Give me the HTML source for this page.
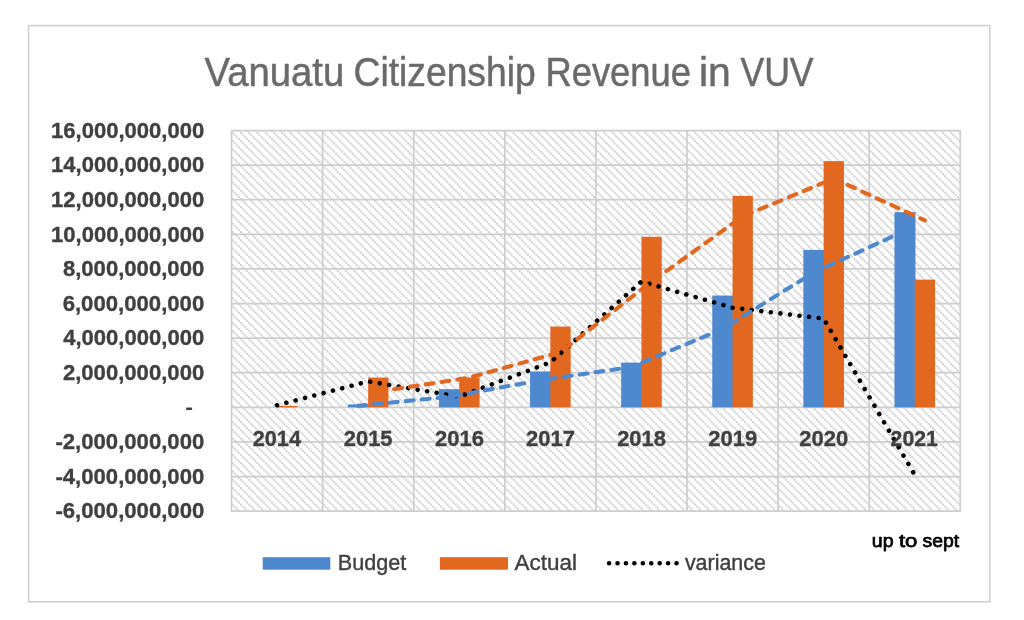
<!DOCTYPE html>
<html lang="en"><head><meta charset="utf-8"><title>Vanuatu Citizenship Revenue in VUV</title>
<style>html,body{margin:0;padding:0;background:#fff;}body{width:1024px;height:620px;overflow:hidden;}svg{display:block;}text{font-family:"Liberation Sans", Arial, Helvetica, sans-serif;}</style>
</head><body>
<svg width="1024" height="620" viewBox="0 0 1024 620">
<defs><pattern id="h" x="231.70" y="131.90" width="8.260" height="8.260" patternUnits="userSpaceOnUse">
<path d="M0.000 0.000L8.260 8.260" stroke="#cbcbcb" stroke-width="1.0" stroke-opacity="0.3" stroke-linecap="square"/>
<rect x="0.107" y="0.107" width="1.85" height="1.85" fill="#cbcbcb"/>
<rect x="2.172" y="2.172" width="1.85" height="1.85" fill="#cbcbcb"/>
<rect x="4.237" y="4.237" width="1.85" height="1.85" fill="#cbcbcb"/>
<rect x="6.303" y="6.303" width="1.85" height="1.85" fill="#cbcbcb"/>
</pattern></defs>
<rect x="0" y="0" width="1024" height="620" fill="#fff"/>
<rect x="28.6" y="25.6" width="961.2" height="576.2" fill="#fff" stroke="#d0d0d0" stroke-width="1.6"/>
<rect x="231.5" y="130.5" width="728.8" height="380.6" fill="url(#h)"/>
<path d="M231.5 165.10H960.3M231.5 199.71H960.3M231.5 234.31H960.3M231.5 268.92H960.3M231.5 303.52H960.3M231.5 338.13H960.3M231.5 372.73H960.3M231.5 407.34H960.3M231.5 441.94H960.3M231.5 476.55H960.3M322.60 130.5V511.1M413.70 130.5V511.1M504.80 130.5V511.1M595.90 130.5V511.1M687.00 130.5V511.1M778.10 130.5V511.1M869.20 130.5V511.1" fill="none" stroke="#cecece" stroke-width="1.75"/>
<rect x="231.5" y="130.5" width="728.8" height="380.65" fill="none" stroke="#cecece" stroke-width="1.75" stroke-linejoin="round"/>
<rect x="277.05" y="405.95" width="20.30" height="1.38" fill="#e2671f"/>
<rect x="347.85" y="404.39" width="21.00" height="2.94" fill="#4e89cf"/>
<rect x="368.15" y="377.58" width="20.30" height="29.76" fill="#e2671f"/>
<rect x="438.95" y="389.17" width="21.00" height="18.17" fill="#4e89cf"/>
<rect x="459.25" y="377.58" width="20.30" height="29.76" fill="#e2671f"/>
<rect x="530.05" y="371.52" width="21.00" height="35.82" fill="#4e89cf"/>
<rect x="550.35" y="326.53" width="20.30" height="80.80" fill="#e2671f"/>
<rect x="621.15" y="362.61" width="21.00" height="44.73" fill="#4e89cf"/>
<rect x="641.45" y="236.82" width="20.30" height="170.51" fill="#e2671f"/>
<rect x="712.25" y="295.56" width="21.00" height="111.77" fill="#4e89cf"/>
<rect x="732.55" y="195.90" width="20.30" height="211.43" fill="#e2671f"/>
<rect x="803.35" y="249.89" width="21.00" height="157.45" fill="#4e89cf"/>
<rect x="823.65" y="161.13" width="20.30" height="246.21" fill="#e2671f"/>
<rect x="894.45" y="212.17" width="21.00" height="195.17" fill="#4e89cf"/>
<rect x="914.75" y="279.65" width="20.30" height="127.69" fill="#e2671f"/>
<polyline points="277.05,405.26 368.15,381.38 459.25,396.61 550.35,362.35 641.45,281.55 732.55,307.68 823.65,318.58 914.75,474.82" fill="none" stroke="#000" stroke-width="4.6" stroke-dasharray="0.01 9.615" stroke-linecap="round" stroke-linejoin="round"/>
<polyline points="358.00,405.87 449.10,396.78 540.20,380.34 631.30,367.07 722.40,329.09 813.50,272.72 904.60,231.03" fill="none" stroke="#4e89cf" stroke-width="4.1" stroke-dasharray="7.9 8.1" stroke-linecap="round" stroke-linejoin="round"/>
<polyline points="378.30,391.76 469.40,377.58 560.50,352.06 651.60,281.68 742.70,216.36 833.80,178.51 924.90,220.39" fill="none" stroke="#e2671f" stroke-width="4.1" stroke-dasharray="7.9 8.1" stroke-linecap="round" stroke-linejoin="round"/>
<rect x="262.7" y="557.2" width="67.6" height="12.5" fill="#4e89cf"/>
<rect x="439.9" y="557.2" width="68.1" height="12.5" fill="#e2671f"/>
<path d="M609.1 563.2H680" fill="none" stroke="#000" stroke-width="4.6" stroke-dasharray="0.01 8.42" stroke-linecap="round"/>
<text y="85.90" font-size="40.3" fill="#6a6a6a" stroke="#6a6a6a" stroke-width="0.5" stroke-linejoin="round"><tspan x="204.60" textLength="139.68" lengthAdjust="spacingAndGlyphs">Vanuatu</tspan> <tspan x="353.62" textLength="182.05" lengthAdjust="spacingAndGlyphs">Citizenship</tspan> <tspan x="545.38" textLength="145.62" lengthAdjust="spacingAndGlyphs">Revenue</tspan> <tspan x="698.90" textLength="31.86" lengthAdjust="spacingAndGlyphs">in</tspan> <tspan x="740.40" textLength="73.20" lengthAdjust="spacingAndGlyphs">VUV</tspan></text>
<text x="51.03" y="137.70" font-size="22.5" font-weight="bold" fill="#404040" stroke="#404040" stroke-width="0.35" stroke-linejoin="round" textLength="153.23" lengthAdjust="spacingAndGlyphs">16,000,000,000</text>
<text x="51.03" y="172.30" font-size="22.5" font-weight="bold" fill="#404040" stroke="#404040" stroke-width="0.35" stroke-linejoin="round" textLength="153.23" lengthAdjust="spacingAndGlyphs">14,000,000,000</text>
<text x="51.03" y="206.91" font-size="22.5" font-weight="bold" fill="#404040" stroke="#404040" stroke-width="0.35" stroke-linejoin="round" textLength="153.23" lengthAdjust="spacingAndGlyphs">12,000,000,000</text>
<text x="51.03" y="241.51" font-size="22.5" font-weight="bold" fill="#404040" stroke="#404040" stroke-width="0.35" stroke-linejoin="round" textLength="153.23" lengthAdjust="spacingAndGlyphs">10,000,000,000</text>
<text x="62.89" y="276.12" font-size="22.5" font-weight="bold" fill="#404040" stroke="#404040" stroke-width="0.35" stroke-linejoin="round" textLength="141.36" lengthAdjust="spacingAndGlyphs">8,000,000,000</text>
<text x="62.64" y="310.72" font-size="22.5" font-weight="bold" fill="#404040" stroke="#404040" stroke-width="0.35" stroke-linejoin="round" textLength="141.61" lengthAdjust="spacingAndGlyphs">6,000,000,000</text>
<text x="63.15" y="345.33" font-size="22.5" font-weight="bold" fill="#404040" stroke="#404040" stroke-width="0.35" stroke-linejoin="round" textLength="141.11" lengthAdjust="spacingAndGlyphs">4,000,000,000</text>
<text x="62.89" y="379.93" font-size="22.5" font-weight="bold" fill="#404040" stroke="#404040" stroke-width="0.35" stroke-linejoin="round" textLength="141.36" lengthAdjust="spacingAndGlyphs">2,000,000,000</text>
<text x="185.25" y="414.30" font-size="20" font-weight="bold" fill="#404040" textLength="7.76" lengthAdjust="spacingAndGlyphs">-</text>
<text x="55.45" y="449.14" font-size="22.5" font-weight="bold" fill="#404040" stroke="#404040" stroke-width="0.35" stroke-linejoin="round" textLength="148.81" lengthAdjust="spacingAndGlyphs">-2,000,000,000</text>
<text x="55.45" y="483.75" font-size="22.5" font-weight="bold" fill="#404040" stroke="#404040" stroke-width="0.35" stroke-linejoin="round" textLength="148.81" lengthAdjust="spacingAndGlyphs">-4,000,000,000</text>
<text x="55.45" y="518.35" font-size="22.5" font-weight="bold" fill="#404040" stroke="#404040" stroke-width="0.35" stroke-linejoin="round" textLength="148.81" lengthAdjust="spacingAndGlyphs">-6,000,000,000</text>
<text x="252.75" y="446.06" font-size="22.5" font-weight="bold" fill="#404040" stroke="#404040" stroke-width="0.35" stroke-linejoin="round" textLength="48.20" lengthAdjust="spacingAndGlyphs">2014</text>
<text x="343.83" y="446.06" font-size="22.5" font-weight="bold" fill="#404040" stroke="#404040" stroke-width="0.35" stroke-linejoin="round" textLength="48.72" lengthAdjust="spacingAndGlyphs">2015</text>
<text x="434.94" y="446.06" font-size="22.5" font-weight="bold" fill="#404040" stroke="#404040" stroke-width="0.35" stroke-linejoin="round" textLength="48.99" lengthAdjust="spacingAndGlyphs">2016</text>
<text x="526.03" y="446.06" font-size="22.5" font-weight="bold" fill="#404040" stroke="#404040" stroke-width="0.35" stroke-linejoin="round" textLength="49.00" lengthAdjust="spacingAndGlyphs">2017</text>
<text x="617.13" y="446.06" font-size="22.5" font-weight="bold" fill="#404040" stroke="#404040" stroke-width="0.35" stroke-linejoin="round" textLength="48.72" lengthAdjust="spacingAndGlyphs">2018</text>
<text x="708.24" y="446.06" font-size="22.5" font-weight="bold" fill="#404040" stroke="#404040" stroke-width="0.35" stroke-linejoin="round" textLength="48.99" lengthAdjust="spacingAndGlyphs">2019</text>
<text x="799.33" y="446.06" font-size="22.5" font-weight="bold" fill="#404040" stroke="#404040" stroke-width="0.35" stroke-linejoin="round" textLength="49.00" lengthAdjust="spacingAndGlyphs">2020</text>
<text x="890.59" y="446.06" font-size="22.5" font-weight="bold" fill="#404040" stroke="#404040" stroke-width="0.35" stroke-linejoin="round" textLength="47.22" lengthAdjust="spacingAndGlyphs">2021</text>
<text x="337.77" y="570.35" font-size="22.3" fill="#404040" stroke="#404040" stroke-width="0.4" stroke-linejoin="round" textLength="68.53" lengthAdjust="spacingAndGlyphs">Budget</text>
<text x="514.60" y="570.35" font-size="22.3" fill="#404040" stroke="#404040" stroke-width="0.4" stroke-linejoin="round" textLength="62.37" lengthAdjust="spacingAndGlyphs">Actual</text>
<text x="684.90" y="570.20" font-size="21.4" fill="#404040" stroke="#404040" stroke-width="0.4" stroke-linejoin="round" textLength="81.05" lengthAdjust="spacingAndGlyphs">variance</text>
<text y="546.80" font-size="18.9" fill="#000" stroke="#000" stroke-width="0.75" stroke-linejoin="round"><tspan x="871.88" textLength="21.72" lengthAdjust="spacingAndGlyphs">up</tspan> <tspan x="898.90" textLength="18.52" lengthAdjust="spacingAndGlyphs">to</tspan> <tspan x="922.45" textLength="36.70" lengthAdjust="spacingAndGlyphs">sept</tspan></text>
</svg></body></html>
